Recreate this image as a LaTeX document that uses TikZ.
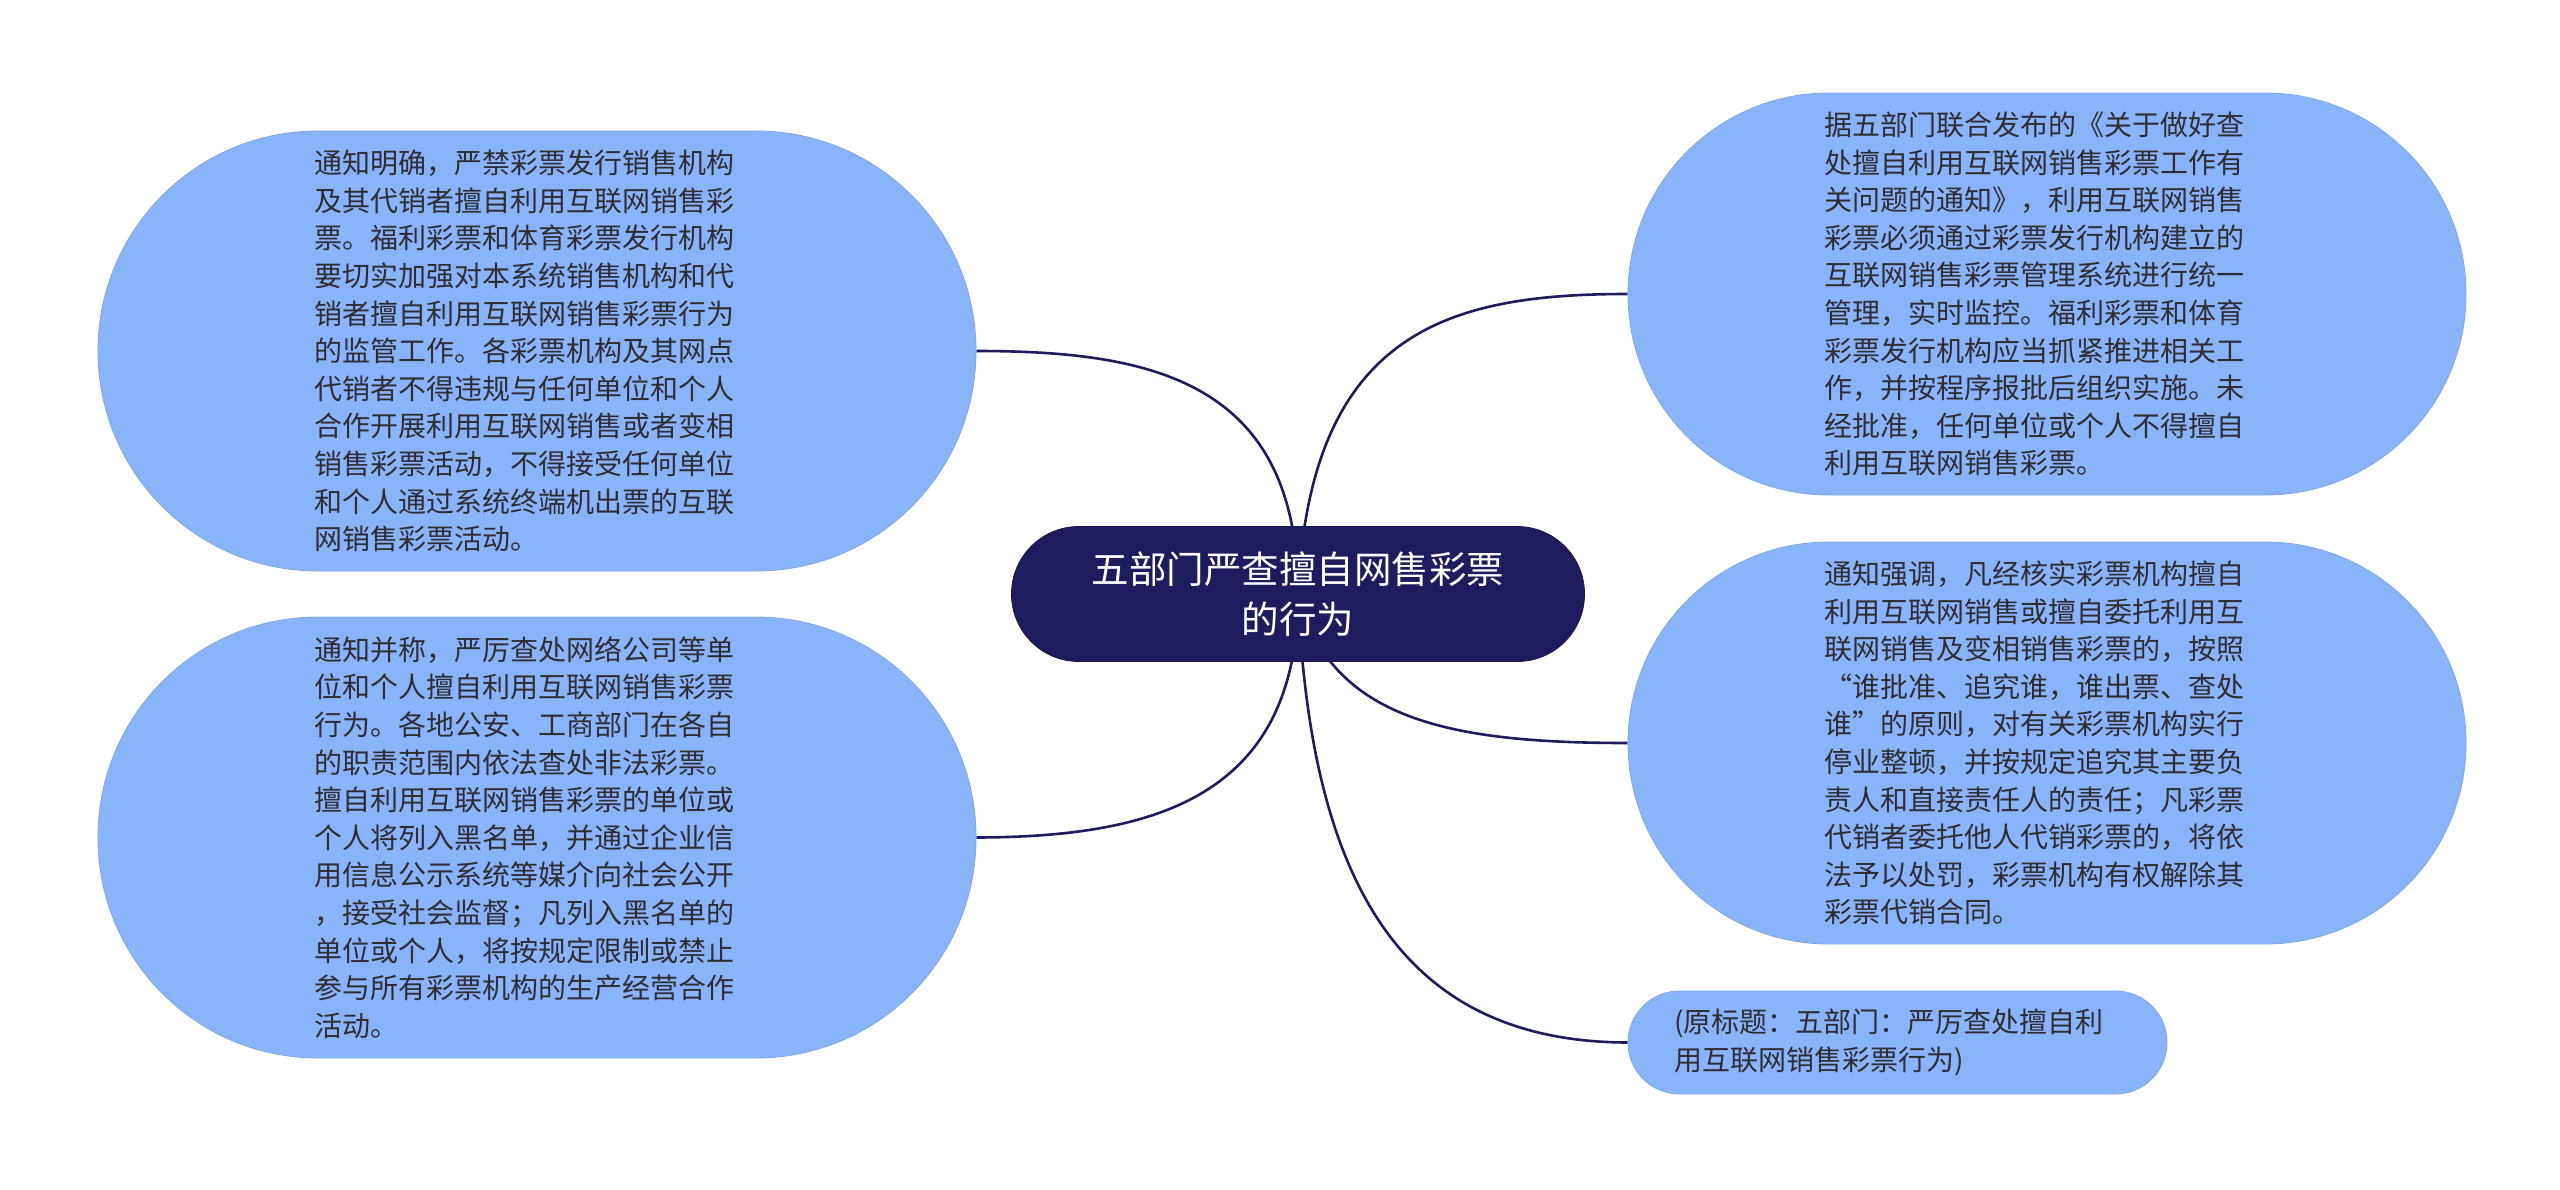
\documentclass[tikz,border=0pt]{standalone}
\usepackage{fontspec}
\setmainfont{Noto Sans CJK SC}
\usetikzlibrary{backgrounds}
\definecolor{leafblue}{RGB}{138,180,250}
\definecolor{navy}{RGB}{30,28,92}
\definecolor{txtgray}{RGB}{45,45,50}
\begin{document}
\begin{tikzpicture}[x=0.5pt,y=-0.5pt,
  leaf/.style={fill=leafblue, draw=leafblue!92!black, line width=0.4pt, text=txtgray,
    font=\fontsize{14pt}{18.8pt}\selectfont, align=left, inner sep=0pt, text width=223pt},
  root/.style={fill=navy, draw=navy!80!black, text=white,
    font=\fontsize{18.75pt}{25pt}\selectfont, align=center, inner sep=0pt,
    minimum width=286.5pt, minimum height=67.5pt, rounded corners=33.7pt},
  link/.style={draw=navy, line width=1.3pt}]
\useasboundingbox (0,0) rectangle (2560,1189);

\node[root] (ct) at (1298,594) {五部门严查擅自网售彩票\\的行为};

\node[leaf, minimum width=439pt, minimum height=220pt, rounded corners=109.9pt] (lt) at (537,351) {通知明确，严禁彩票发行销售机构\\
及其代销者擅自利用互联网销售彩\\
票。福利彩票和体育彩票发行机构\\
要切实加强对本系统销售机构和代\\
销者擅自利用互联网销售彩票行为\\
的监管工作。各彩票机构及其网点\\
代销者不得违规与任何单位和个人\\
合作开展利用互联网销售或者变相\\
销售彩票活动，不得接受任何单位\\
和个人通过系统终端机出票的互联\\
网销售彩票活动。};

\node[leaf, minimum width=439pt, minimum height=220.5pt, rounded corners=110pt] (lb) at (537,837.5) {通知并称，严厉查处网络公司等单\\
位和个人擅自利用互联网销售彩票\\
行为。各地公安、工商部门在各自\\
的职责范围内依法查处非法彩票。\\
擅自利用互联网销售彩票的单位或\\
个人将列入黑名单，并通过企业信\\
用信息公示系统等媒介向社会公开\\
，接受社会监督；凡列入黑名单的\\
单位或个人，将按规定限制或禁止\\
参与所有彩票机构的生产经营合作\\
活动。};

\node[leaf, minimum width=419pt, minimum height=201pt, rounded corners=100.4pt] (rt) at (2047,294) {据五部门联合发布的《关于做好查\\
处擅自利用互联网销售彩票工作有\\
关问题的通知》，利用互联网销售\\
彩票必须通过彩票发行机构建立的\\
互联网销售彩票管理系统进行统一\\
管理，实时监控。福利彩票和体育\\
彩票发行机构应当抓紧推进相关工\\
作，并按程序报批后组织实施。未\\
经批准，任何单位或个人不得擅自\\
利用互联网销售彩票。};

\node[leaf, minimum width=419pt, minimum height=201pt, rounded corners=100.4pt] (rm) at (2047,743) {通知强调，凡经核实彩票机构擅自\\
利用互联网销售或擅自委托利用互\\
联网销售及变相销售彩票的，按照\\
“谁批准、追究谁，谁出票、查处\\
谁”的原则，对有关彩票机构实行\\
停业整顿，并按规定追究其主要负\\
责人和直接责任人的责任；凡彩票\\
代销者委托他人代销彩票的，将依\\
法予以处罚，彩票机构有权解除其\\
彩票代销合同。};

\node[leaf, minimum width=269.5pt, minimum height=51.5pt, rounded corners=25.7pt] (br) at (1897.5,1042.5) {(原标题：五部门：严厉查处擅自利\\
用互联网销售彩票行为)};

\begin{scope}[on background layer]
\fill[white] (0,0) rectangle (2560,1189);
\draw[link] (ct.center) .. controls (1298,380) and (1150,351) .. (lt.east);
\draw[link] (ct.center) .. controls (1310,330) and (1450,294) .. (rt.west);
\draw[link] (ct.center) .. controls (1298,800) and (1150,837) .. (lb.east);
\draw[link] (ct.center) .. controls (1330,720) and (1450,743) .. (rm.west);
\draw[link] (ct.center) .. controls (1310,880) and (1400,1042) .. (br.west);
\end{scope}
\end{tikzpicture}
\end{document}
